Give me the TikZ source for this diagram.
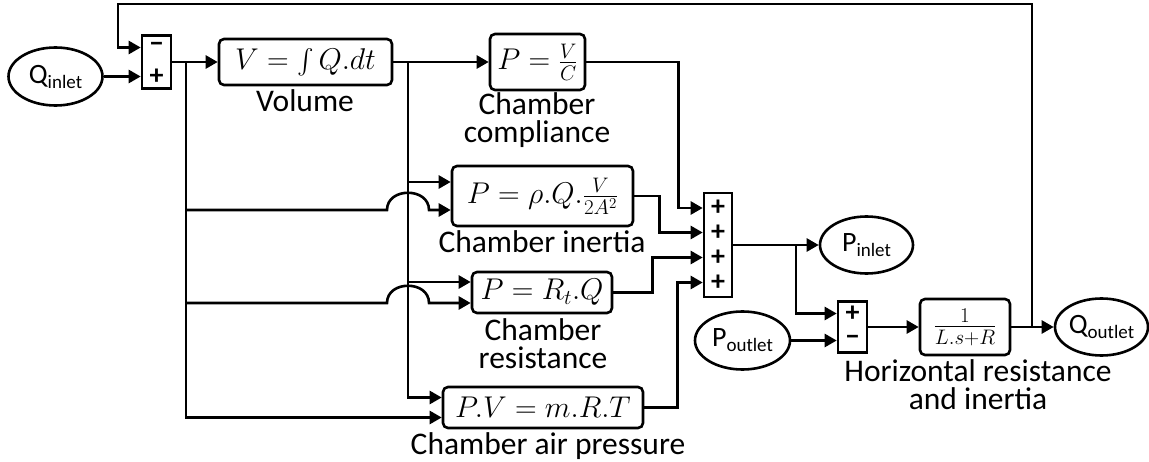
\documentclass[tikz,border=0pt]{standalone}
\usepackage{fix-cm}
\usepackage{amsmath}
\usepackage{exscale}
\usepackage{fontspec}
\setmainfont{Carlito}
\usetikzlibrary{arrows.meta,calc,shapes.geometric}
\newcommand\mymathsz{\fontsize{30}{30}\selectfont}
\newcommand\mylabsz{\fontsize{31.5}{28}\selectfont}
\newcommand\mysgnsz{\fontsize{28}{28}\selectfont\bfseries}
\newcommand\ellsub[2]{{\fontsize{28}{28}\selectfont #1}\raisebox{-5pt}{\fontsize{19}{19}\selectfont #2}}
\begin{document}
\begin{tikzpicture}[x=1pt,y=-1pt,
  line width=2.6pt,
  arr/.style={-{Triangle[length=12pt,width=13pt]}},
  blk/.style={draw,rounded corners=5pt,inner sep=0pt,font=\mymathsz},
  sumblk/.style={draw,inner sep=0pt,minimum width=29pt},
  ell/.style={draw,ellipse,inner sep=0pt},
  lab/.style={font=\mylabsz,align=center,inner sep=0pt},
  sgn/.style={font=\mysgnsz,inner sep=0pt}]
\useasboundingbox (0,0) rectangle (1149,462);

% blocks
\node[sumblk,minimum height=53pt] (sum1) at (156.5,62) {};
\node[blk,minimum width=173pt,minimum height=46pt] (vol) at (305.5,62) {$V=\int Q.dt$};
\node[blk,minimum width=95pt,minimum height=56pt] (comp) at (537.5,62) {$P=\frac{V}{C}$};
\node[blk,minimum width=181pt,minimum height=60pt] (iner) at (542.5,196) {$P=\rho.Q.\frac{V}{2A^2}$};
\node[blk,minimum width=140pt,minimum height=41pt] (res) at (542,292.5) {$P=R_t.Q$};
\node[blk,minimum width=200pt,minimum height=41pt] (pv) at (543,407.5) {$P.V=m.R.T$};
\node[sumblk,minimum width=28pt,minimum height=104pt] (sum2) at (718,245) {};
\node[sumblk,minimum height=51pt] (sum3) at (852.5,327) {};
\node[blk,minimum width=90pt,minimum height=56pt] (tf) at (965,327) {$\frac{1}{L.s+R}$};

% ellipses
\node[ell,minimum width=94pt,minimum height=58pt] (qin) at (55.5,76.5) {\ellsub{Q}{inlet}};
\node[ell,minimum width=93pt,minimum height=57pt] (pin) at (866.5,245) {\ellsub{P}{inlet}};
\node[ell,minimum width=95pt,minimum height=58pt] (pout) at (742.5,340.5) {\ellsub{P}{outlet}};
\node[ell,minimum width=93pt,minimum height=57pt] (qout) at (1101.5,327) {\ellsub{Q}{outlet}};

% labels
\node[lab] (vollab) at (305,101) {Volume};
\node[lab] (complab) at (537,120) {Chamber\\compliance};
\node[lab] (inerlab) at (542,242) {Chamber inertia};
\node[lab] (reslab) at (543,344) {Chamber\\resistance};
\node[lab] (pvlab) at (548,446) {Chamber air pressure};
\node[lab] (tflab) at (978,385) {Horizontal resistance\\and inertia};

% input points
\coordinate (s1a) at ($(sum1.west)+(0,-14.5)$);
\coordinate (s1b) at ($(sum1.west)+(0,14.5)$);
\coordinate (s2a) at ($(sum2.west)+(0,-37)$);
\coordinate (s2b) at ($(sum2.west)+(0,-12.5)$);
\coordinate (s2c) at ($(sum2.west)+(0,12.5)$);
\coordinate (s2d) at ($(sum2.west)+(0,37.5)$);
\coordinate (s3a) at ($(sum3.west)+(0,-13.5)$);
\coordinate (s3b) at ($(sum3.west)+(0,13.5)$);
\coordinate (inera) at ($(iner.west)+(0,-14)$);
\coordinate (inerb) at ($(iner.west)+(0,14)$);
\coordinate (resa) at ($(res.west)+(0,-10.5)$);
\coordinate (resb) at ($(res.west)+(0,10.5)$);
\coordinate (pva) at ($(pv.west)+(0,-10)$);
\coordinate (pvb) at ($(pv.west)+(0,10)$);

% signs
\node[sgn] (m1) at (sum1.center |- s1a) {−};
\node[sgn] (p1) at (sum1.center |- s1b) {+};
\node[sgn] (p2a) at (sum2.center |- s2a) {+};
\node[sgn] (p2b) at (sum2.center |- s2b) {+};
\node[sgn] (p2c) at (sum2.center |- s2c) {+};
\node[sgn] (p2d) at (sum2.center |- s2d) {+};
\node[sgn] (p3) at (sum3.center |- s3a) {+};
\node[sgn] (m3) at (sum3.center |- s3b) {−};

% junctions
\coordinate (j1) at (186,62);
\coordinate (j2) at (408,62);
\coordinate (j3) at (796,245);
\coordinate (j4) at (1032,327);

% connectors
\draw[arr] (qin.east) -- (s1b);
\draw[arr] (sum1.east) -- (vol.west);
\draw[arr] (vol.east) -- (comp.west);
\draw[arr] (j1) |- (pvb);
\draw[arr] (j2) |- (pva);
\draw[arr] (j2 |- inera) -- (inera);
\draw[arr] (j2 |- resa) -- (resa);
\draw[arr] (j1 |- inerb) -- ($(j2 |- inerb)+(-21,0)$)
  .. controls +(0,-23) and +(0,-23) .. ($(j2 |- inerb)+(21,0)$) -- (inerb);
\draw[arr] (j1 |- resb) -- ($(j2 |- resb)+(-21,0)$)
  .. controls +(0,-23) and +(0,-23) .. ($(j2 |- resb)+(21,0)$) -- (resb);
\draw[arr] (comp.east) -- ++(92,0) |- (s2a);
\draw[arr] (iner.east) -- ++(25,0) |- (s2b);
\draw[arr] (res.east) -- ++(39,0) |- (s2c);
\draw[arr] (pv.east) -- ++(33,0) |- (s2d);
\draw[arr] (sum2.east) -- (pin.west);
\draw[arr] (j3) |- (s3a);
\draw[arr] (pout.east) -- (s3b);
\draw[arr] (sum3.east) -- (tf.west);
\draw[arr] (tf.east) -- (qout.west);
\draw[arr] (j4) -- ++(0,-323) -- ++(-914,0) |- (s1a);
\end{tikzpicture}
\end{document}
